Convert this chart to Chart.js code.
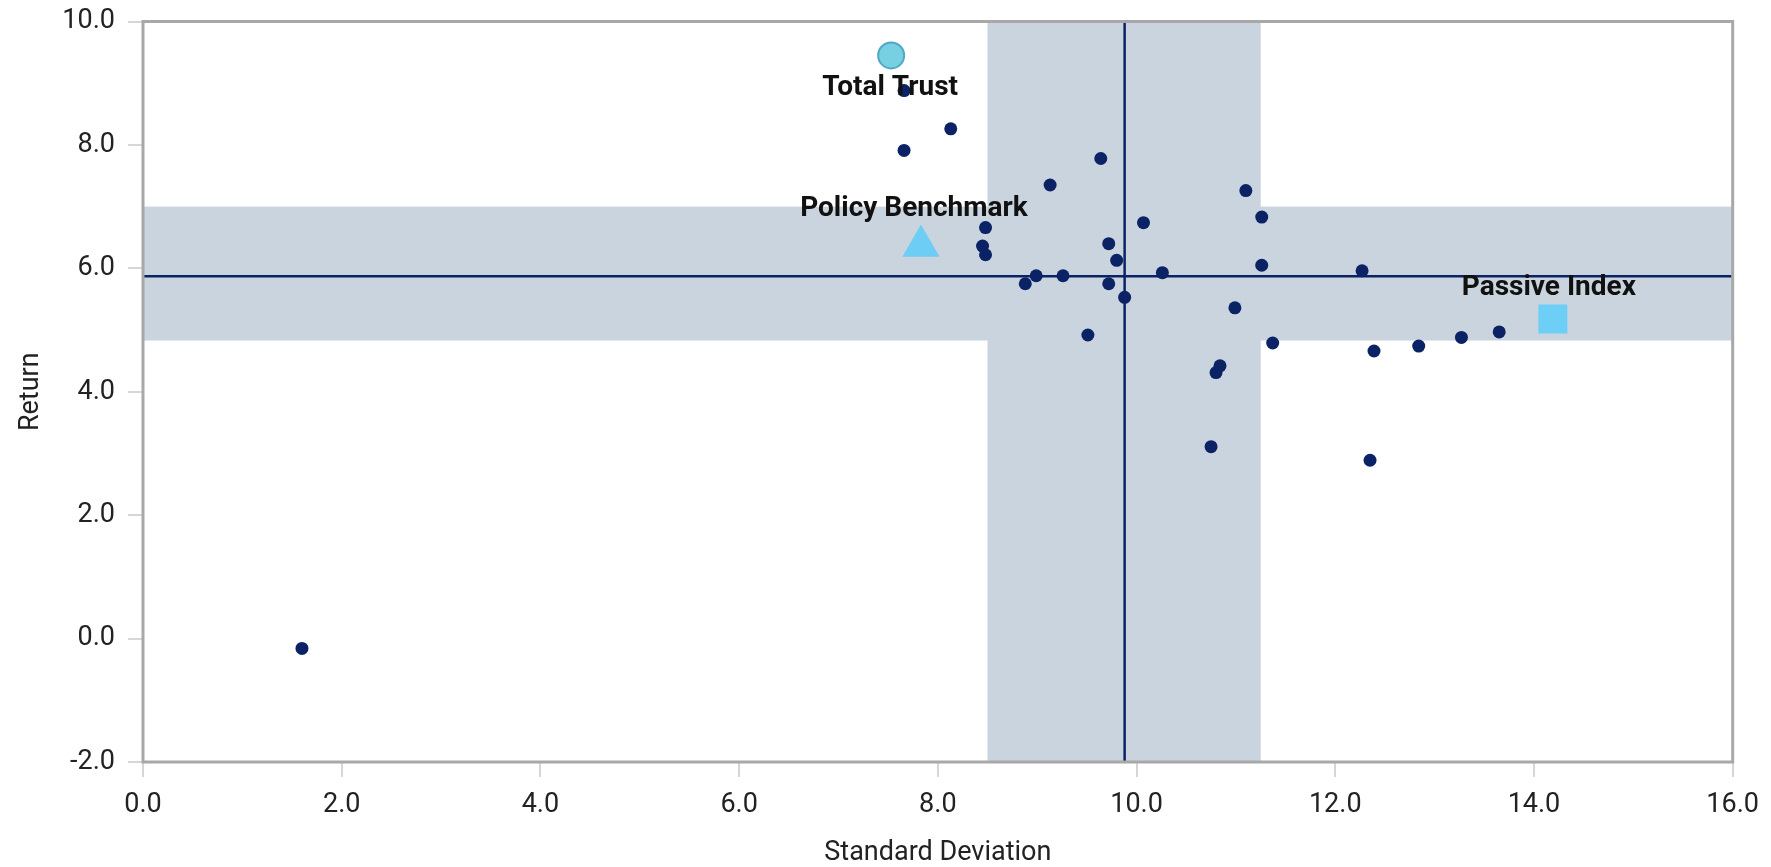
<!DOCTYPE html>
<html>
<head>
<meta charset="utf-8">
<script src="https://cdn.jsdelivr.net/npm/chart.js@4.4.1/dist/chart.umd.min.js"></script>
<style>
  html, body { margin: 0; padding: 0; background: #fff; }
  #wrap { width: 1771px; height: 867px; }
</style>
</head>
<body>
<div id="wrap"><canvas id="riskReturn"></canvas></div>
<script>
// peer universe: standard deviation / return
const peerStdDev = [1.60, 7.66, 8.13, 7.66, 9.64, 9.13, 11.10, 11.26, 10.07, 8.48, 9.72,
  8.45, 8.48, 9.80, 11.26, 12.27, 8.99, 9.26, 10.26, 8.88, 9.72, 9.88, 10.99, 9.51,
  11.37, 12.39, 10.84, 10.80, 10.75, 12.35, 12.84, 13.27, 13.65];
const peerReturn = [-0.16, 8.88, 8.26, 7.91, 7.78, 7.35, 7.26, 6.83, 6.74, 6.66, 6.40,
  6.36, 6.22, 6.13, 6.05, 5.96, 5.88, 5.88, 5.93, 5.75, 5.75, 5.53, 5.36, 4.92,
  4.79, 4.66, 4.42, 4.31, 3.11, 2.89, 4.74, 4.88, 4.97];

// highlighted portfolios
const highlightNames = ['Total Trust', 'Policy Benchmark', 'Passive Index'];
const highlightStdDev = [7.53, 7.83, 14.19];
const highlightReturn = [9.45, 6.36, 5.18];

// peer medians and interquartile ranges
const medianStdDev = 9.88;
const medianReturn = 5.87;
const stdDevRange = [8.5, 11.25];
const returnRange = [4.83, 7.0];

const NAVY = '#0b2265';
const BAND = '#cad4df';
const FONT = 'Roboto, "Liberation Sans", sans-serif';

const quadrantPlugin = {
  id: 'quadrants',
  beforeDatasetsDraw(chart) {
    const {ctx, chartArea: a, scales: {x, y}} = chart;
    ctx.save();
    ctx.fillStyle = BAND;
    const x0 = x.getPixelForValue(stdDevRange[0]);
    const x1 = x.getPixelForValue(stdDevRange[1]);
    ctx.fillRect(x0, a.top, x1 - x0, a.bottom - a.top);
    const y0 = y.getPixelForValue(returnRange[1]);
    const y1 = y.getPixelForValue(returnRange[0]);
    ctx.fillRect(a.left, y0, a.right - a.left, y1 - y0);

    ctx.strokeStyle = NAVY;
    ctx.lineWidth = 2.5;
    const mx = x.getPixelForValue(medianStdDev);
    const my = y.getPixelForValue(medianReturn);
    ctx.beginPath();
    ctx.moveTo(mx, a.top);
    ctx.lineTo(mx, a.bottom);
    ctx.moveTo(a.left, my);
    ctx.lineTo(a.right, my);
    ctx.stroke();

    ctx.strokeStyle = '#a8a8a8';
    ctx.lineWidth = 3;
    ctx.strokeRect(a.left, a.top, a.right - a.left, a.bottom - a.top);
    ctx.restore();
  }
};

// offsets of each name relative to its marker
const labelPos = [{dx: -1, dy: 40}, {dx: -7, dy: -30}, {dx: -4, dy: -24}];

const namePlugin = {
  id: 'names',
  afterDatasetsDraw(chart) {
    const {ctx} = chart;
    ctx.save();
    ctx.font = 'bold 28px ' + FONT;
    ctx.fillStyle = '#111';
    ctx.textAlign = 'center';
    ctx.textBaseline = 'alphabetic';
    highlightNames.forEach((name, i) => {
      const pt = chart.getDatasetMeta(i + 1).data[0];
      ctx.fillText(name, pt.x + labelPos[i].dx, pt.y + labelPos[i].dy);
    });
    ctx.restore();
  }
};

function point(i) {
  return [{x: highlightStdDev[i], y: highlightReturn[i]}];
}

const data = {
  datasets: [
    {
      label: 'Peers',
      data: peerStdDev.map((v, i) => ({x: v, y: peerReturn[i]})),
      backgroundColor: NAVY,
      borderWidth: 0,
      pointRadius: 6.5
    },
    {
      label: highlightNames[0],
      data: point(0),
      pointStyle: 'circle',
      backgroundColor: '#76d0e2',
      borderColor: '#4ea9c9',
      borderWidth: 2,
      pointRadius: 13
    },
    {
      label: highlightNames[1],
      data: point(1),
      pointStyle: 'triangle',
      backgroundColor: '#6dcdf4',
      borderWidth: 0,
      pointRadius: 21.5
    },
    {
      label: highlightNames[2],
      data: point(2),
      pointStyle: 'rect',
      backgroundColor: '#6dcff6',
      borderWidth: 0,
      pointRadius: 20.5
    }
  ]
};

new Chart('riskReturn', {
  type: 'scatter',
  data: data,
  options: {
    responsive: true,
    maintainAspectRatio: false,
    animation: false,
    layout: {padding: {top: 15, right: 37, left: 0, bottom: 0}},
    plugins: {
      legend: {display: false},
      tooltip: {enabled: false}
    },
    scales: {
      x: {
        type: 'linear',
        min: 0,
        max: 16,
        afterFit(scale) { scale.height = 105; },
        border: {display: false},
        grid: {drawOnChartArea: false, tickLength: 15, color: '#d6d6d6', lineWidth: 2},
        ticks: {
          stepSize: 2,
          padding: 12,
          color: '#222',
          font: {family: FONT, size: 27},
          callback: v => v.toFixed(1)
        },
        title: {
          display: true,
          text: 'Standard Deviation',
          color: '#222',
          font: {family: FONT, size: 27, lineHeight: 1.0},
          padding: {top: 0, bottom: 0.5}
        }
      },
      y: {
        type: 'linear',
        min: -2,
        max: 10,
        afterFit(scale) { scale.width = 143; },
        border: {display: false},
        grid: {drawOnChartArea: false, tickLength: 15, color: '#d6d6d6', lineWidth: 2},
        ticks: {
          stepSize: 2,
          padding: 13,
          color: '#222',
          font: {family: FONT, size: 27, lineHeight: 0.2},
          callback: v => v.toFixed(1)
        },
        title: {
          display: true,
          text: 'Return',
          color: '#222',
          font: {family: FONT, size: 27},
          padding: {top: 15, bottom: 0}
        }
      }
    }
  },
  plugins: [quadrantPlugin, namePlugin]
});
</script>
</body>
</html>
